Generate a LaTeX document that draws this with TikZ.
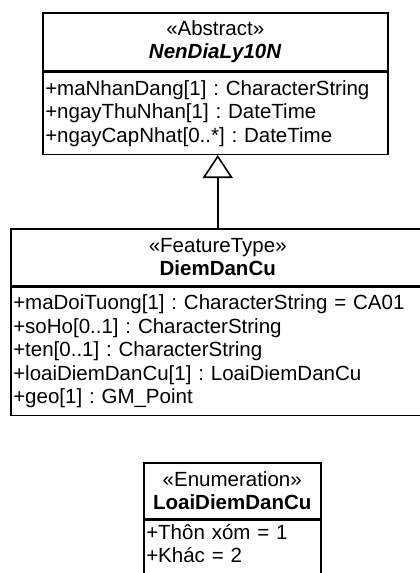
\documentclass[tikz,border=0pt]{standalone}
\usepackage{fontspec}
\setmainfont{Liberation Sans}
\usetikzlibrary{arrows.meta}
\frenchspacing
\begin{document}
\begin{tikzpicture}[x=1pt,y=-1pt,
  every node/.style={font=\fontsize{20.5pt}{23.5pt}\selectfont, inner sep=0pt},
  comp/.style={draw, line width=1.5pt, anchor=north west, inner xsep=2.5pt},
  head/.style={comp, align=center},
  attrs/.style={comp, align=left},
  gen/.style={line width=1.6pt, -{Triangle[open, length=23pt, width=30pt, line width=1.6pt]}}
]
\useasboundingbox (0,0) rectangle (420,573);
\clip (0,0) rectangle (420,573);

% abstract base class
\node[head, minimum width=345pt, minimum height=58pt] (absH) at (42,12)
  {«Abstract»\\\textbf{\textit{NenDiaLy10N}}};
\node[attrs, text width=340pt, minimum height=82pt] (absA) at (absH.south west)
  {+maNhanDang[1] : CharacterString\\+ngayThuNhan[1] : DateTime\\+ngayCapNhat[0..*] : DateTime};

% feature type
\node[head, minimum width=414pt, minimum height=57pt] (ddH) at (10,228)
  {«FeatureType»\\\textbf{DiemDanCu}};
\node[attrs, text width=409pt, minimum height=128pt] (ddA) at (ddH.south west)
  {+maDoiTuong[1] : CharacterString = CA01\\+soHo[0..1] : CharacterString\\+ten[0..1] : CharacterString\\+loaiDiemDanCu[1] : LoaiDiemDanCu\\+geo[1] : GM\_Point};

% enumeration
\node[head, minimum width=177pt, minimum height=56pt] (enH) at (143,462)
  {«Enumeration»\\\textbf{LoaiDiemDanCu}};
\node[attrs, text width=172pt, minimum height=70pt] (enA) at (enH.south west)
  {+Thôn xóm = 1\\+Khác = 2\\~};

% generalization
\draw[gen] (ddH.north) -- (ddH.north |- absA.south);
\end{tikzpicture}
\end{document}
